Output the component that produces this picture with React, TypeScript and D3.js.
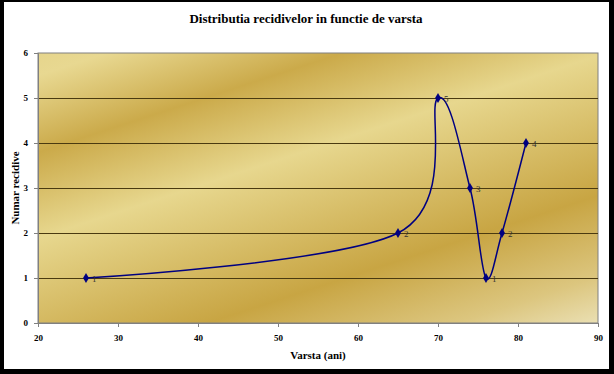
import React, { useEffect, useRef } from 'react';
import * as d3 from 'd3';

const ages = [26, 65, 70, 74, 76, 78, 81];
const relapses = [1, 2, 5, 3, 1, 2, 4];
const xTicks = [20, 30, 40, 50, 60, 70, 80, 90];
const yTicks = [0, 1, 2, 3, 4, 5, 6];

const W = 614;
const H = 374;

const App = () => {
    const svgRef = useRef<SVGSVGElement>(null);

    useEffect(() => {
        const svg = d3.select(svgRef.current);
        svg.selectAll('*').remove();

        const left = 38, right = 598, top = 53, bottom = 323;
        const font = "'Liberation Serif', 'Times New Roman', serif";

        // black frame around the picture
        svg.append('rect').attr('width', W).attr('height', H).attr('fill', '#000');
        svg.append('rect').attr('x', 4).attr('y', 2).attr('width', W - 9).attr('height', H - 7).attr('fill', '#fff');

        // gold fill: shallow diagonal bands
        const len = 430;
        const defs = svg.append('defs');
        const grad = defs.append('linearGradient')
            .attr('id', 'gold')
            .attr('gradientUnits', 'userSpaceOnUse')
            .attr('x1', left).attr('y1', top)
            .attr('x2', left + 0.31 * len).attr('y2', top + 0.95 * len);
        [
            ['0%', '#e6d58c'],
            ['5%', '#e8d891'],
            ['22%', '#cbaa4a'],
            ['41%', '#e7d78e'],
            ['72%', '#c8a543'],
            ['90%', '#dcc67f'],
            ['100%', '#eadfb2']
        ].forEach(([o, c]) => grad.append('stop').attr('offset', o).attr('stop-color', c));

        const x = d3.scaleLinear().domain([20, 90]).range([left, right]);
        const y = d3.scaleLinear().domain([0, 6]).range([bottom, top]);

        svg.append('rect')
            .attr('x', left).attr('y', top)
            .attr('width', right - left).attr('height', bottom - top)
            .attr('fill', 'url(#gold)')
            .attr('stroke', '#808080');

        // grid lines
        svg.append('g')
            .selectAll('line')
            .data(yTicks.filter(t => t > 0 && t < 6))
            .enter()
            .append('line')
            .attr('x1', left).attr('x2', right)
            .attr('y1', d => y(d) + 0.5).attr('y2', d => y(d) + 0.5)
            .attr('stroke', '#4a3a10')
            .attr('stroke-width', 1.2);

        // axes
        const yAxis = svg.append('g')
            .attr('transform', `translate(${left},0)`)
            .call(d3.axisLeft(y).tickValues(yTicks).tickSize(4).tickPadding(6).tickFormat(d3.format('d')));
        const xAxis = svg.append('g')
            .attr('transform', `translate(0,${bottom})`)
            .call(d3.axisBottom(x).tickValues(xTicks).tickSize(4).tickPadding(8).tickFormat(d3.format('d')));
        [yAxis, xAxis].forEach(a => {
            a.attr('font-family', null);
            a.select('.domain').attr('stroke', '#808080');
            a.selectAll('.tick line').attr('stroke', '#808080');
            a.selectAll('text')
                .style('font-family', font)
                .style('font-size', '9px')
                .style('font-weight', 'bold')
                .attr('fill', '#000');
        });

        const pts = ages.map((a, i) => [a, relapses[i]] as [number, number]);

        // Excel-style smoothing ~ uniform Catmull-Rom
        const line = d3.line<[number, number]>()
            .x(d => x(d[0]))
            .y(d => y(d[1]))
            .curve(d3.curveCardinal.tension(0));

        svg.append('path')
            .attr('d', line(pts))
            .attr('fill', 'none')
            .attr('stroke', '#000080')
            .attr('stroke-width', 1.5);

        svg.append('g')
            .selectAll('path')
            .data(pts)
            .enter()
            .append('path')
            .attr('d', d3.symbol(d3.symbolDiamond, 30))
            .attr('transform', d => `translate(${x(d[0])},${y(d[1])})`)
            .attr('fill', '#000080');

        svg.append('g')
            .selectAll('text')
            .data(pts)
            .enter()
            .append('text')
            .attr('x', d => x(d[0]) + 6)
            .attr('y', d => y(d[1]) + 3.5)
            .style('font-family', font)
            .style('font-size', '9px')
            .attr('fill', '#333')
            .text(d => d[1]);

        svg.append('text')
            .attr('x', 306).attr('y', 23)
            .attr('text-anchor', 'middle')
            .style('font-family', font)
            .style('font-size', '13px')
            .style('font-weight', 'bold')
            .text('Distributia recidivelor in functie de varsta');

        svg.append('text')
            .attr('x', 318).attr('y', 359)
            .attr('text-anchor', 'middle')
            .style('font-family', font)
            .style('font-size', '11px')
            .style('font-weight', 'bold')
            .text('Varsta (ani)');

        svg.append('text')
            .attr('transform', `translate(19,${(top + bottom) / 2}) rotate(-90)`)
            .attr('text-anchor', 'middle')
            .style('font-family', font)
            .style('font-size', '11px')
            .style('font-weight', 'bold')
            .text('Numar recidive');
    }, []);

    return (
        <svg ref={svgRef} width={W} height={H}
            style={{ position: 'absolute', left: 0, top: 0, display: 'block' }} />
    );
};

export default App;
